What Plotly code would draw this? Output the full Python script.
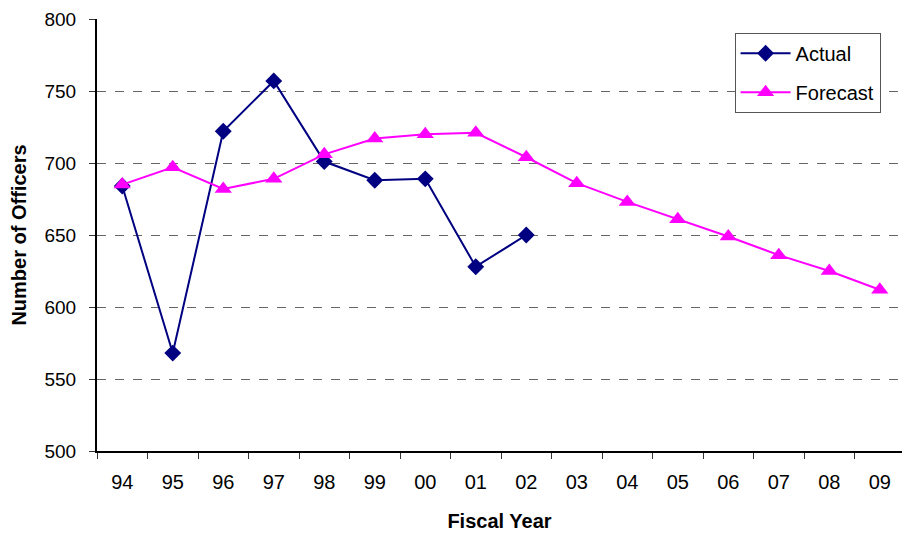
import plotly.graph_objects as go

# Fiscal years on the category axis
years = ["94", "95", "96", "97", "98", "99", "00", "01", "02",
         "03", "04", "05", "06", "07", "08", "09"]

# Actual officer counts (through FY02)
actual_years = years[:9]
actual = [684, 568, 722, 757, 701, 688, 689, 628, 650]

# Forecast officer counts
forecast = [685, 697, 682, 689, 706, 717, 720, 721, 704,
            686, 673, 661, 649, 636, 625, 612]

FONT = "Liberation Sans, Arial, sans-serif"

fig = go.Figure()
fig.add_trace(go.Scatter(
    x=actual_years, y=actual, name="Actual", mode="lines+markers",
    legendgroup="actual",
    line=dict(color="#000080", width=2),
    marker=dict(symbol="diamond", size=13, color="#000080"),
))
fig.add_trace(go.Scatter(
    x=years, y=forecast, name="Forecast", mode="lines+markers",
    legendgroup="forecast",
    line=dict(color="#FF00FF", width=2),
    marker=dict(symbol="triangle-up", size=15, color="#FF00FF"),
))

fig.update_layout(
    width=902, height=533,
    margin=dict(l=97, r=0, t=19, b=82),
    paper_bgcolor="white", plot_bgcolor="white",
    font=dict(family=FONT, size=19, color="black"),
    showlegend=True,
    legend=dict(
        x=0.792, y=0.968, xanchor="left", yanchor="top",
        bgcolor="white", bordercolor="#555555", borderwidth=1,
        font=dict(family=FONT, size=20),
        itemwidth=50, tracegroupgap=10,
    ),
    xaxis=dict(
        type="category", categoryorder="array", categoryarray=years,
        range=[-0.5, 15.44],
        tickson="boundaries", ticks="outside", ticklen=6,
        tickcolor="#333333", showgrid=False,
        showline=True, linecolor="black", linewidth=2,
        ticklabelstandoff=12,
        title=dict(text="<b>Fiscal Year</b>", font=dict(size=20), standoff=22),
        tickfont=dict(size=20),
    ),
    yaxis=dict(
        range=[500, 800], dtick=50, tick0=500,
        ticks="outside", ticklen=6, tickcolor="#333333",
        showline=True, linecolor="black", linewidth=2,
        showgrid=True, gridcolor="#666666", griddash="dash", gridwidth=1,
        zeroline=False, ticklabelstandoff=9,
        title=dict(text="<b>Number of Officers</b>", font=dict(size=20), standoff=12),
        tickfont=dict(size=19),
    ),
)

fig.write_html("out.html")
